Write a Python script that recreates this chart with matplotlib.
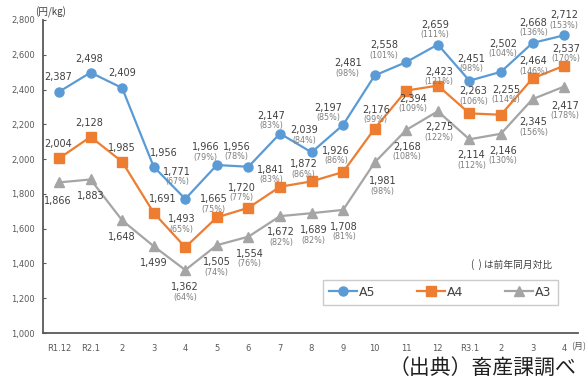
import matplotlib
matplotlib.use("Agg")
import matplotlib.pyplot as plt

# Monthly wholesale prices (円/kg) by grade, with year-on-year ratios (%)
months = ["R1.12", "R2.1", "2", "3", "4", "5", "6", "7", "8", "9",
          "10", "11", "12", "R3.1", "2", "3", "4"]
a5 = [2387, 2498, 2409, 1956, 1771, 1966, 1956, 2147, 2039, 2197,
      2481, 2558, 2659, 2451, 2502, 2668, 2712]
a4 = [2004, 2128, 1985, 1691, 1493, 1665, 1720, 1841, 1872, 1926,
      2176, 2394, 2423, 2263, 2255, 2464, 2537]
a3 = [1866, 1883, 1648, 1499, 1362, 1505, 1554, 1672, 1689, 1708,
      1981, 2168, 2275, 2114, 2146, 2345, 2417]
a5_pct = [None, None, None, None, 67, 79, 78, 83, 84, 85, 98, 101, 111, 98, 104, 136, 153]
a4_pct = [None, None, None, None, 65, 75, 77, 83, 86, 86, 99, 109, 121, 106, 114, 146, 170]
a3_pct = [None, None, None, None, 64, 74, 76, 82, 82, 81, 98, 108, 122, 112, 130, 156, 178]
y_ticks = [1000, 1200, 1400, 1600, 1800, 2000, 2200, 2400, 2600, 2800]

# label placement (pixel offsets of the value text centre from its point)
a5_off = [(-1, 15), (-1, 14), (0, 15), (10, 14), (-8, 27), (-11, 18), (-12, 20), (-9, 18),
          (-7, 22), (-15, 17), (-27, 12), (-22, 17), (-3, 20), (2, 22), (2, 28), (1, 20), (0, 20)]
a4_off = [(-1, 14), (-1, 14), (0, 14), (9, 14), (-4, 28), (-3, 18), (-7, 20), (-9, 17),
          (-8, 17), (-7, 21), (1, 19), (7, -8), (1, 14), (4, 22), (5, 25), (1, 17), (2, 17)]
a3_off = [(-1, -19), (0, -17), (0, -17), (0, -17), (0, -17), (0, -17), (1, -17), (1, -16),
          (2, -17), (1, -17), (8, -19), (1, -17), (1, -16), (2, -16), (2, -17), (1, -23), (1, -19)]

c5, c4, c3 = "#5B9BD5", "#ED7D31", "#A5A5A5"
txt = "#404040"
sub = "#7F7F7F"
jp = ["Noto Sans CJK JP", "DejaVu Sans"]

fig = plt.figure(figsize=(5.87, 3.83), dpi=100)
ax = fig.add_axes([43 / 587, 50 / 383, 535 / 587, 313 / 383])
x = list(range(len(months)))

ax.plot(x, a5, color=c5, lw=1.6, marker="o", ms=6.5, label="A5", zorder=3)
ax.plot(x, a4, color=c4, lw=1.6, marker="s", ms=6.5, label="A4", zorder=3)
ax.plot(x, a3, color=c3, lw=1.6, marker="^", ms=6.5, label="A3", zorder=3)

for vals, pcts, offs in [(a5, a5_pct, a5_off), (a4, a4_pct, a4_off), (a3, a3_pct, a3_off)]:
    for i, (v, p, (dx, dy)) in enumerate(zip(vals, pcts, offs)):
        ax.annotate(f"{v:,}", (i, v), xytext=(dx, dy), textcoords="offset pixels",
                    ha="center", va="center", fontsize=7, color=txt, zorder=4)
        if p is not None:
            ax.annotate(f"({p}%)", (i, v), xytext=(dx, dy - 10), textcoords="offset pixels",
                        ha="center", va="center", fontsize=5.8, color=sub, zorder=4)

ax.set_xlim(-0.507, 16.44)
ax.set_ylim(1000, 2800)
ax.set_yticks(y_ticks)
ax.set_yticklabels([f"{t:,}" for t in y_ticks])
ax.set_xticks(x)
ax.set_xticklabels(months)
ax.tick_params(axis="both", labelsize=6, colors="#595959")
ax.tick_params(axis="x", length=0, pad=8)
ax.tick_params(axis="y", direction="in", length=2.5, width=0.8, pad=6)
for s in ["top", "right"]:
    ax.spines[s].set_visible(False)
for s in ["left", "bottom"]:
    ax.spines[s].set_color("#595959")
    ax.spines[s].set_linewidth(1.3)

leg = ax.legend(loc="lower left", bbox_to_anchor=(280 / 535, 28 / 313, 235 / 535, 28 / 313),
                ncol=3, mode="expand", frameon=True, fancybox=False, fontsize=9,
                handlelength=2.2, handletextpad=0.2, borderaxespad=0, borderpad=0.5)
leg.get_frame().set_edgecolor("#BFBFBF")
leg.get_frame().set_linewidth(1.0)
for t in leg.get_texts():
    t.set_color(txt)

fig.text(35 / 587, 1 - 12 / 383, "(円/kg)", fontsize=7, color=txt, family=jp, va="center")
fig.text(571 / 587, 1 - 347 / 383, "(月)", fontsize=6.5, color="#595959", family=jp, va="center")
fig.text(552 / 587, 1 - 265 / 383, "(  ) は前年同月対比", fontsize=7, color=txt, family=jp,
         va="center", ha="right")
fig.text(482 / 587, 1 - 368 / 383, "（出典）畜産課調べ", fontsize=15, color="#202020", family=jp,
         va="center", ha="center")

fig.savefig("out.png", dpi=100)
